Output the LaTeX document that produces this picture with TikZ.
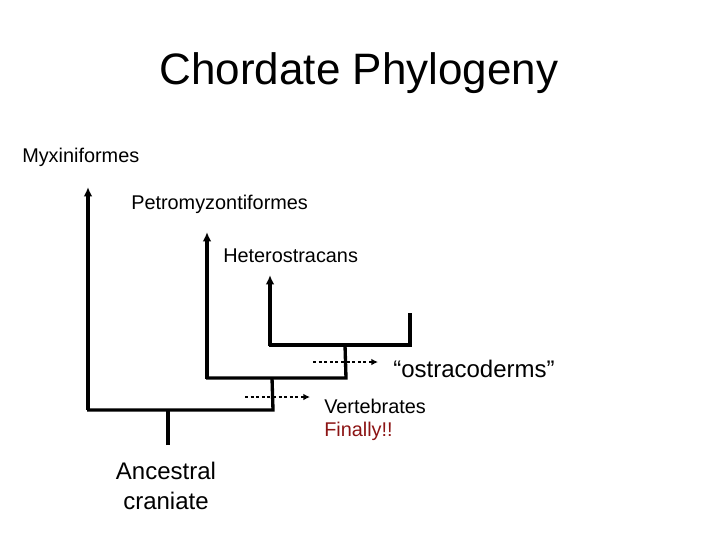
\documentclass[tikz,border=0pt]{standalone}
\usepackage{fontspec}
\setmainfont{Liberation Sans}
\usetikzlibrary{arrows.meta}
\definecolor{fin}{RGB}{140,20,20}
\begin{document}
\begin{tikzpicture}[x=0.75pt,y=-0.75pt,
  br/.style={line width=2.5pt},
  arr/.style={br,-{Latex[length=7pt,width=6.5pt]}},
  dots/.style={line width=2.2pt,dotted,-{Latex[length=5pt,width=5pt]}},
  lbl/.style={font=\fontsize{14.9}{17}\selectfont,inner sep=0pt}]
\useasboundingbox (0,0) rectangle (720,540);
\node[font=\fontsize{33}{40}\selectfont] (title) at (359,73) {Chordate Phylogeny};
\node[lbl,anchor=west] (myx) at (22,157) {Myxiniformes};
\node[lbl,anchor=west] (pet) at (131,204) {Petromyzontiformes};
\node[lbl,anchor=west] (het) at (223,256) {Heterostracans};
\node[lbl,anchor=west,font=\fontsize{18}{21}\selectfont] (ost) at (393,369) {“ostracoderms”};
\node[lbl,anchor=west] (vert) at (324,406) {Vertebrates};
\node[lbl,anchor=west,text=fin] (fin) at (324,431) {Finally!!};
\node[align=center,font=\fontsize{18}{22}\selectfont,inner sep=0pt] (anc) at (166,486) {Ancestral\\craniate};
\coordinate (root) at (168,445);
\coordinate (n1) at (168,410);
\coordinate (n2) at (272,378);
\coordinate (n3) at (345,345);
\draw[br] (root) -- (n1);
\draw[arr] (88,410) -- (88,187);
\draw[br] (87,410) -- (273,410) -- (n2);
\draw[arr] (207,379) -- (207,232);
\draw[br] (206,378) -- (346,378) -- (n3);
\draw[arr] (270,346) -- (270,275);
\draw[br] (269,345) -- (410,345) -- (410,313);
\coordinate (d1a) at (313,362); \coordinate (d1b) at (378,362);
\coordinate (d2a) at (245,397); \coordinate (d2b) at (310,397);
\draw[dots] (d1a) -- (d1b);
\draw[dots] (d2a) -- (d2b);
\end{tikzpicture}
\end{document}
